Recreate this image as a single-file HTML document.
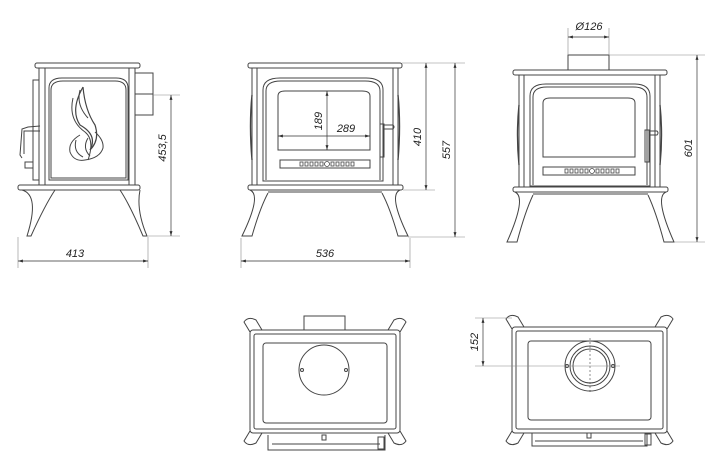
<!DOCTYPE html>
<html><head><meta charset="utf-8"><style>
html,body{margin:0;padding:0;background:#fff;}
svg{display:block}
text{font-family:"Liberation Sans",sans-serif;font-size:11px;fill:#222;font-style:italic}
</style></head><body>
<svg width="722" height="474" viewBox="0 0 722 474" xmlns="http://www.w3.org/2000/svg">
<defs>
<marker id="a" viewBox="0 0 10 10" refX="10" refY="5" markerWidth="7" markerHeight="7" orient="auto-start-reverse"><path d="M0,2 L10,5 L0,8 z" fill="#333"/></marker>
</defs>
<g fill="none" stroke="#444" stroke-width="1">

<!-- ===== SIDE VIEW ===== -->
<rect x="35" y="63" width="105" height="5" rx="2"/>
<rect x="39" y="68" width="96" height="117"/>
<line x1="45" y1="68" x2="45" y2="185"/><line x1="129" y1="68" x2="129" y2="185"/>
<path d="M49,180 L49,88 Q49,78 62,78 L116,78 Q128,78 128,88 L128,180 Z"/>
<path d="M51,178 L51,90 Q51,81 63,81 L115,81 Q126,81 126,90 L126,178 Z"/>
<rect x="33" y="80" width="6" height="100"/>
<rect x="135" y="73" width="18" height="42"/>
<line x1="135" y1="94" x2="153" y2="94"/>
<path d="M40,126 L28,127 L22,129 L20,155 L22,158"/>
<path d="M40,131 L28,131 L24,131 L24,154"/>
<rect x="25" y="162" width="8" height="6"/>
<path d="M83,87 Q70,110 80,125 Q98,135 90,150 Q100,140 95,125 Q85,110 83,87" stroke-width="1.2"/>
<path d="M73,98 Q68,120 85,132 Q95,140 88,160 M80,90 Q76,105 88,118"/>
<path d="M80,135 Q68,142 70,152 Q74,162 85,160 Q100,158 103,148 Q104,140 95,132"/>
<path d="M76,140 Q73,152 83,157 M88,138 Q82,148 90,156"/>
<rect x="18" y="185" width="122" height="5" rx="2"/>
<path d="M22,190 Q40,195 27,236 L31,236 Q45,205 55,190"/>
<path d="M120,190 Q130,205 143,236 L147,236 Q136,210 140,190"/>
<line x1="153" y1="95" x2="180" y2="95" stroke="#888" stroke-width="0.6"/>
<line x1="148" y1="236" x2="180" y2="236" stroke="#888" stroke-width="0.6"/>
<line x1="171" y1="95" x2="171" y2="236" stroke="#333" stroke-width="0.7" marker-start="url(#a)" marker-end="url(#a)"/>
<line x1="18" y1="237" x2="18" y2="268" stroke="#888" stroke-width="0.6"/>
<line x1="148" y1="237" x2="148" y2="268" stroke="#888" stroke-width="0.6"/>
<line x1="18" y1="261" x2="148" y2="261" stroke="#333" stroke-width="0.7" marker-start="url(#a)" marker-end="url(#a)"/>

<!-- ===== FRONT VIEW ===== -->
<rect x="248" y="63" width="154" height="5" rx="2"/>
<rect x="252" y="68" width="146" height="117"/>
<line x1="257" y1="68" x2="257" y2="185"/><line x1="393" y1="68" x2="393" y2="185"/>
<path d="M263,181 L263,90 Q263,78 280,78 L366,78 Q383,78 383,90 L383,181 Z"/>
<path d="M266,180 L266,91 Q266,81 281,81 L365,81 Q380,81 380,91 L380,180"/>
<path d="M278,150 L278,96 Q278,91 285,91 L362,91 Q370,91 370,96 L370,150 Z"/>
<rect x="280" y="160" width="90" height="8"/>
<g stroke-width="0.8"><rect x="300" y="162" width="3" height="4"/><rect x="305" y="162" width="3" height="4"/><rect x="310" y="162" width="3" height="4"/><rect x="315" y="162" width="3" height="4"/><rect x="320" y="162" width="3" height="4"/><circle cx="327" cy="164" r="2.5"/><rect x="331" y="162" width="3" height="4"/><rect x="336" y="162" width="3" height="4"/><rect x="341" y="162" width="3" height="4"/><rect x="346" y="162" width="3" height="4"/><rect x="351" y="162" width="3" height="4"/></g>
<rect x="380" y="124" width="4" height="33"/><path d="M384,125 L393,125 Q395,127 393,129 L384,129"/>
<path d="M252,95 Q249,125 252,160 M398,95 Q401,125 398,160" stroke-width="1.4"/>
<rect x="248" y="185" width="155" height="5" rx="2"/>
<path d="M250,190 Q262,195 242,236 L252,236 Q260,208 268,193"/>
<path d="M400,190 Q388,195 408,236 L398,236 Q390,208 382,193"/>
<line x1="268" y1="192" x2="382" y2="192"/>
<line x1="327" y1="91" x2="327" y2="150" stroke="#333" stroke-width="0.7" marker-start="url(#a)" marker-end="url(#a)"/>
<line x1="278" y1="136" x2="370" y2="136" stroke="#333" stroke-width="0.7" marker-start="url(#a)" marker-end="url(#a)"/>
<line x1="402" y1="63" x2="465" y2="63" stroke="#888" stroke-width="0.6"/>
<line x1="403" y1="190" x2="435" y2="190" stroke="#888" stroke-width="0.6"/>
<line x1="408" y1="237" x2="465" y2="237" stroke="#888" stroke-width="0.6"/>
<line x1="426" y1="63" x2="426" y2="190" stroke="#333" stroke-width="0.7" marker-start="url(#a)" marker-end="url(#a)"/>
<line x1="455" y1="63" x2="455" y2="237" stroke="#333" stroke-width="0.7" marker-start="url(#a)" marker-end="url(#a)"/>
<line x1="241" y1="238" x2="241" y2="268" stroke="#888" stroke-width="0.6"/>
<line x1="410" y1="238" x2="410" y2="268" stroke="#888" stroke-width="0.6"/>
<line x1="241" y1="261" x2="410" y2="261" stroke="#333" stroke-width="0.7" marker-start="url(#a)" marker-end="url(#a)"/>

<!-- ===== FRONT VIEW 2 ===== -->
<rect x="568" y="55" width="41" height="15"/>
<rect x="513" y="70" width="154" height="5" rx="2"/>
<rect x="519" y="75" width="141" height="112"/>
<line x1="524" y1="75" x2="524" y2="187"/><line x1="655" y1="75" x2="655" y2="187"/>
<path d="M530,186 L530,96 Q530,84 546,84 L634,84 Q650,84 650,96 L650,186 Z"/>
<path d="M533,185 L533,97 Q533,87 547,87 L633,87 Q647,87 647,97 L647,185"/>
<path d="M543,157 L543,103 Q543,98 550,98 L628,98 Q635,98 635,103 L635,157 Z"/>
<rect x="543" y="167" width="92" height="8"/>
<g stroke-width="0.8"><rect x="565" y="169" width="3" height="4"/><rect x="570" y="169" width="3" height="4"/><rect x="575" y="169" width="3" height="4"/><rect x="580" y="169" width="3" height="4"/><rect x="585" y="169" width="3" height="4"/><circle cx="592" cy="171" r="2.5"/><rect x="596" y="169" width="3" height="4"/><rect x="601" y="169" width="3" height="4"/><rect x="606" y="169" width="3" height="4"/><rect x="611" y="169" width="3" height="4"/><rect x="616" y="169" width="3" height="4"/></g>
<rect x="645" y="130" width="4" height="32"/><path d="M649,131 L657,131 Q659,133 657,135 L649,135"/>
<path d="M519,105 Q516,135 519,165 M660,105 Q663,135 660,165" stroke-width="1.4"/>
<rect x="513" y="187" width="155" height="5" rx="2"/>
<path d="M515,192 Q527,197 507,242 L517,242 Q525,212 533,195"/>
<path d="M666,192 Q654,197 674,242 L664,242 Q656,212 648,195"/>
<line x1="533" y1="194" x2="648" y2="194"/>
<line x1="568" y1="28" x2="568" y2="55" stroke="#888" stroke-width="0.6"/>
<line x1="609" y1="28" x2="609" y2="55" stroke="#888" stroke-width="0.6"/>
<line x1="568" y1="37" x2="609" y2="37" stroke="#333" stroke-width="0.7" marker-start="url(#a)" marker-end="url(#a)"/>
<line x1="609" y1="55" x2="705" y2="55" stroke="#888" stroke-width="0.6"/>
<line x1="674" y1="242" x2="705" y2="242" stroke="#888" stroke-width="0.6"/>
<line x1="697" y1="55" x2="697" y2="242" stroke="#333" stroke-width="0.7" marker-start="url(#a)" marker-end="url(#a)"/>

<!-- ===== TOP VIEW LEFT ===== -->
<rect x="304" y="316" width="41" height="14"/>
<rect x="250" y="330" width="150" height="103" rx="3"/>
<rect x="254" y="334" width="142" height="95" rx="2"/>
<rect x="263" y="343" width="124" height="80" rx="3"/>
<circle cx="324" cy="370" r="25"/>
<circle cx="302" cy="370" r="1.5"/><circle cx="346" cy="370" r="1.5"/>
<path d="M250,332 L244,322 Q248,316 256,320 L262,330"/>
<path d="M400,332 L406,322 Q402,316 394,320 L388,330"/>
<path d="M250,431 L244,441 Q248,447 256,443 L262,433"/>
<path d="M400,431 L406,441 Q402,447 394,443 L388,433"/>
<path d="M268,435 L268,450 L385,450 L385,435"/>
<line x1="272" y1="444" x2="380" y2="444"/>
<rect x="322" y="435" width="4" height="5"/>
<rect x="378" y="437" width="6" height="12"/>

<!-- ===== TOP VIEW RIGHT ===== -->
<rect x="512" y="327" width="155" height="106" rx="3"/>
<rect x="516" y="331" width="147" height="98" rx="2"/>
<rect x="528" y="341" width="123" height="79" rx="3"/>
<circle cx="590" cy="366" r="25"/>
<circle cx="590" cy="366" r="20"/>
<circle cx="590" cy="366" r="17"/>
<line x1="590" y1="338" x2="590" y2="393" stroke-dasharray="2,2" stroke-width="0.6"/>
<circle cx="567" cy="366" r="1.5"/><circle cx="613" cy="366" r="1.5"/>
<path d="M512,329 L506,319 Q510,313 518,317 L524,327"/>
<path d="M667,329 L673,319 Q669,313 661,317 L655,327"/>
<path d="M512,431 L506,441 Q510,447 518,443 L524,433"/>
<path d="M667,431 L673,441 Q669,447 661,443 L655,433"/>
<path d="M532,433 L532,446 L647,446 L647,433"/>
<line x1="535" y1="441" x2="643" y2="441"/>
<rect x="587" y="433" width="4" height="5"/>
<rect x="645" y="434" width="6" height="11"/>
<line x1="475" y1="318" x2="512" y2="318" stroke="#888" stroke-width="0.6"/>
<line x1="475" y1="366" x2="620" y2="366" stroke="#888" stroke-width="0.6"/>
<line x1="483" y1="318" x2="483" y2="366" stroke="#333" stroke-width="0.7" marker-start="url(#a)" marker-end="url(#a)"/>
</g>

<text x="75" y="257" text-anchor="middle">413</text>
<text x="166" y="148" text-anchor="middle" transform="rotate(-90 166 148)">453,5</text>
<text x="325" y="257" text-anchor="middle">536</text>
<text x="322" y="121" text-anchor="middle" transform="rotate(-90 322 121)">189</text>
<text x="346" y="132" text-anchor="middle">289</text>
<text x="421" y="137" text-anchor="middle" transform="rotate(-90 421 137)">410</text>
<text x="450" y="150" text-anchor="middle" transform="rotate(-90 450 150)">557</text>
<text x="589" y="30" text-anchor="middle">Ø126</text>
<text x="692" y="148" text-anchor="middle" transform="rotate(-90 692 148)">601</text>
<text x="478" y="342" text-anchor="middle" transform="rotate(-90 478 342)">152</text>
</svg>
</body></html>
